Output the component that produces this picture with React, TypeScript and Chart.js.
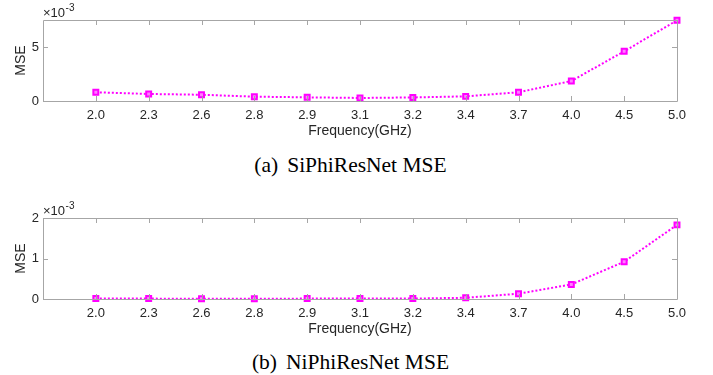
import React, { useEffect, useRef } from "react";
import { Chart, registerables } from "chart.js";

Chart.register(...registerables);

const categories = ["2.0", "2.3", "2.6", "2.8", "2.9", "3.1", "3.2", "3.4", "3.7", "4.0", "4.5", "5.0"];
const siPhiMse = [0.81e-3, 0.65e-3, 0.58e-3, 0.40e-3, 0.34e-3, 0.28e-3, 0.33e-3, 0.43e-3, 0.81e-3, 1.85e-3, 4.6e-3, 7.47e-3];
const niPhiMse = [0.01e-3, 0.01e-3, 0.005e-3, 0.005e-3, 0.01e-3, 0.01e-3, 0.01e-3, 0.03e-3, 0.13e-3, 0.36e-3, 0.92e-3, 1.83e-3];
const siYTicks = [0, 5e-3];
const niYTicks = [0, 1e-3, 2e-3];
const siYMax = 7.5e-3;
const niYMax = 2e-3;
const xLabel = "Frequency(GHz)";
const yLabel = "MSE";
const captionA = ["(a)", "SiPhiResNet MSE"];
const captionB = ["(b)", "NiPhiResNet MSE"];

const SANS = "'Liberation Sans', Arial, Helvetica, sans-serif";
const TEXT = "#262626";
const AXIS = "#a6a6a6";
const MAGENTA = "#ff00ff";

const framePlugin = {
  id: "matlabFrame",
  afterDraw(chart: any) {
    const { ctx, chartArea } = chart;
    const { left, right, top, bottom } = chartArea;
    const xs = chart.scales.x;
    const ys = chart.scales.y;
    const tl = 5;
    ctx.save();
    ctx.strokeStyle = AXIS;
    ctx.lineWidth = 1;
    ctx.beginPath();
    ctx.rect(Math.round(left) + 0.5, Math.round(top) + 0.5, Math.round(right - left), Math.round(bottom - top));
    ctx.stroke();
    ctx.beginPath();
    xs.ticks.forEach((t: any) => {
      const px = Math.round(xs.getPixelForValue(t.value)) + 0.5;
      ctx.moveTo(px, bottom);
      ctx.lineTo(px, bottom - tl);
      ctx.moveTo(px, top);
      ctx.lineTo(px, top + tl);
    });
    ys.ticks.forEach((t: any) => {
      const py = Math.round(ys.getPixelForValue(t.value)) + 0.5;
      ctx.moveTo(left, py);
      ctx.lineTo(left + tl, py);
      ctx.moveTo(right, py);
      ctx.lineTo(right - tl, py);
    });
    ctx.stroke();
    // exponent label
    ctx.fillStyle = TEXT;
    ctx.textBaseline = "alphabetic";
    ctx.textAlign = "left";
    ctx.font = `13px ${SANS}`;
    const base = "\u00d710";
    ctx.fillText(base, left, top - 3);
    const w = ctx.measureText(base).width;
    ctx.font = `10px ${SANS}`;
    ctx.fillText("-3", left + w + 0.5, top - 9);
    ctx.restore();
  },
};

function makeConfig(values: number[], yTicks: number[], yMax: number): any {
  return {
    type: "line",
    data: {
      datasets: [
        {
          data: values.map((v, i) => ({ x: i, y: v })),
          borderColor: MAGENTA,
          borderWidth: 2,
          borderDash: [2, 2],
          pointStyle: "rect",
          pointRadius: 3.5,
          pointBorderWidth: 2,
          pointBorderColor: MAGENTA,
          pointBackgroundColor: "#ff80ff",
          fill: false,
          tension: 0.0,
          clip: false,
        },
      ],
    },
    options: {
      animation: false,
      responsive: false,
      maintainAspectRatio: false,
      layout: { padding: { top: 20, right: 36, left: 0, bottom: 0 } },
      plugins: { legend: { display: false }, tooltip: { enabled: false } },
      scales: {
        x: {
          type: "linear",
          min: -1,
          max: categories.length - 1,
          grid: { display: false, drawTicks: false },
          border: { display: false },
          afterBuildTicks: (s: any) => {
            s.ticks = categories.map((_, i) => ({ value: i }));
          },
          afterFit: (s: any) => {
            s.height = 39;
          },
          ticks: {
            color: TEXT,
            font: { size: 13, family: SANS },
            padding: 7,
            maxRotation: 0,
            autoSkip: false,
            callback: (v: any) => categories[v] ?? "",
          },
          title: {
            display: true,
            text: xLabel,
            color: TEXT,
            font: { size: 14, family: SANS },
            padding: { top: 0, bottom: 0 },
          },
        },
        y: {
          type: "linear",
          min: 0,
          max: yMax,
          grid: { display: false, drawTicks: false },
          border: { display: false },
          afterBuildTicks: (s: any) => {
            s.ticks = yTicks.map((v) => ({ value: v }));
          },
          afterFit: (s: any) => {
            s.width = 43;
          },
          ticks: {
            color: TEXT,
            font: { size: 13, family: SANS },
            padding: 4,
            callback: (v: any) => String(Math.round(v * 1000)),
          },
          title: {
            display: true,
            text: yLabel,
            color: TEXT,
            font: { size: 14, family: SANS },
            padding: { top: 13, bottom: 0 },
          },
        },
      },
    },
    plugins: [framePlugin],
  };
}

function Panel({ values, yTicks, yMax, top }: { values: number[]; yTicks: number[]; yMax: number; top: number }) {
  const ref = useRef<HTMLCanvasElement | null>(null);
  useEffect(() => {
    if (!ref.current) return;
    const chart = new Chart(ref.current, makeConfig(values, yTicks, yMax));
    return () => chart.destroy();
  }, [values, yTicks, yMax]);
  return (
    <canvas
      ref={ref}
      width={713}
      height={140}
      style={{ position: "absolute", left: 0, top, width: 713, height: 140 }}
    />
  );
}

function Caption({ parts, top }: { parts: string[]; top: number }) {
  return (
    <div
      style={{
        position: "absolute",
        left: 0,
        top,
        width: 701,
        textAlign: "center",
        fontFamily: "'Liberation Serif', 'Times New Roman', serif",
        fontSize: 21.5,
        color: "#000",
        lineHeight: "24px",
        whiteSpace: "pre",
      }}
    >
      <span style={{ marginRight: 9 }}>{parts[0]}</span>
      <span>{parts[1]}</span>
    </div>
  );
}

export default function App() {
  return (
    <div style={{ position: "fixed", left: 0, top: 0, width: 713, height: 375, background: "#fff", overflow: "hidden" }}>
      <Panel values={siPhiMse} yTicks={siYTicks} yMax={siYMax} top={0} />
      <Caption parts={captionA} top={153} />
      <Panel values={niPhiMse} yTicks={niYTicks} yMax={niYMax} top={198} />
      <Caption parts={captionB} top={350} />
    </div>
  );
}
